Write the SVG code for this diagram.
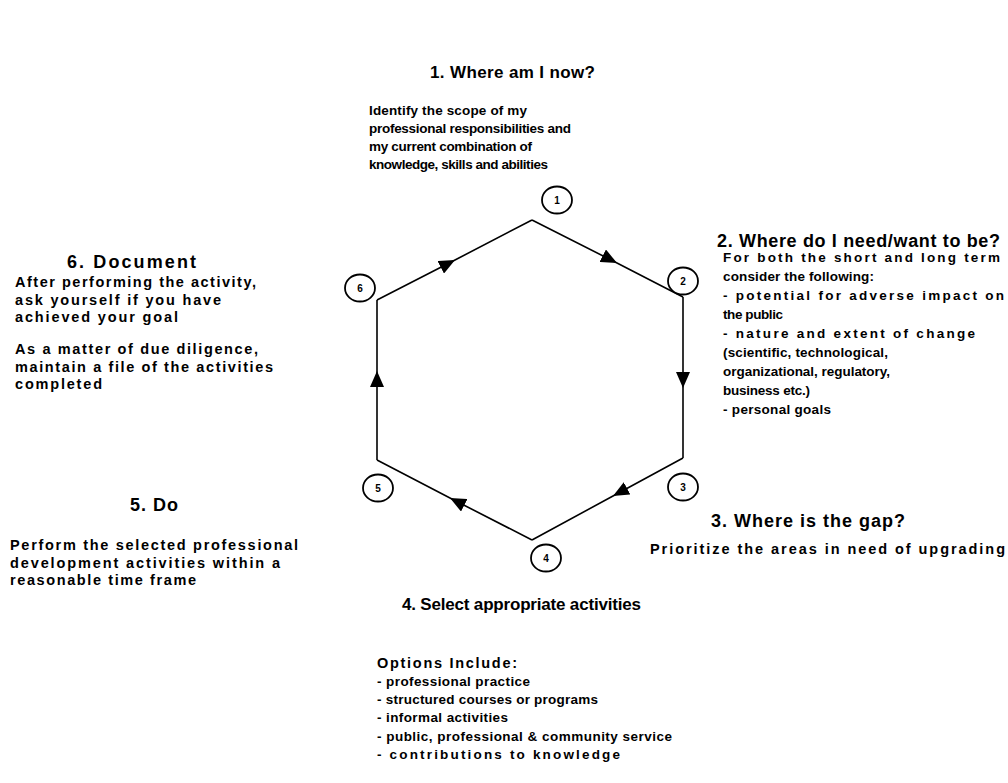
<svg xmlns="http://www.w3.org/2000/svg" width="1008" height="783" viewBox="0 0 1008 783">
<style>
text{font-family:"Liberation Sans",Arial,sans-serif;fill:#000;font-weight:bold}
.h{font-size:17px}
.h2{font-size:18px}
.b{font-size:13.5px}
.b2{font-size:14.5px}
.n{font-size:10px;text-anchor:middle}
.edge{fill:none;stroke:#000;stroke-width:1.6}
.c{fill:#fff;stroke:#000;stroke-width:1.8}
</style>
<defs>
<marker id="ah" markerUnits="userSpaceOnUse" markerWidth="17" markerHeight="14" refX="16" refY="7" orient="auto">
<path d="M0,0 L16,7 L0,14 z" fill="#000"/>
</marker>
</defs>
<rect width="1008" height="783" fill="#fff"/>
<g id="connectors">
<path class="edge" d="M377,300 L455,260 L532,220" marker-mid="url(#ah)"/>
<path class="edge" d="M532,220 L617,263 L683,297" marker-mid="url(#ah)"/>
<path class="edge" d="M683,297 L683,388 L683,458" marker-mid="url(#ah)"/>
<path class="edge" d="M683,458 L613,496 L532,540" marker-mid="url(#ah)"/>
<path class="edge" d="M532,540 L450,498 L377,460" marker-mid="url(#ah)"/>
<path class="edge" d="M377,460 L377,371 L377,300" marker-mid="url(#ah)"/>
</g>
<g id="node1">
<ellipse class="c" cx="557" cy="200" rx="15" ry="13.5"/>
<text class="n" x="557" y="204">1</text>
<text class="h" x="430" y="78" textLength="165" lengthAdjust="spacing">1. Where am I now?</text>
<text class="b" x="369" y="115" textLength="158" lengthAdjust="spacing">Identify the scope of my</text>
<text class="b" x="369" y="133" textLength="202" lengthAdjust="spacing">professional responsibilities and</text>
<text class="b" x="369" y="151" textLength="163" lengthAdjust="spacing">my current combination of</text>
<text class="b" x="369" y="169" textLength="179" lengthAdjust="spacing">knowledge, skills and abilities</text>
</g>
<g id="node2">
<ellipse class="c" cx="683" cy="281" rx="15" ry="13.5"/>
<text class="n" x="683" y="285">2</text>
<text class="h2" x="717" y="247" textLength="283" lengthAdjust="spacing">2. Where do I need/want to be?</text>
<text class="b" x="723" y="262" textLength="277" lengthAdjust="spacing">For both the short and long term</text>
<text class="b" x="723" y="281" textLength="151" lengthAdjust="spacing">consider the following:</text>
<text class="b" x="723" y="300" textLength="281" lengthAdjust="spacing">- potential for adverse impact on</text>
<text class="b" x="723" y="319" textLength="60" lengthAdjust="spacing">the public</text>
<text class="b" x="723" y="338" textLength="252" lengthAdjust="spacing">- nature and extent of change</text>
<text class="b" x="723" y="357" textLength="165" lengthAdjust="spacing">(scientific, technological,</text>
<text class="b" x="723" y="376" textLength="167" lengthAdjust="spacing">organizational, regulatory,</text>
<text class="b" x="723" y="395" textLength="87" lengthAdjust="spacing">business etc.)</text>
<text class="b" x="723" y="414" textLength="108" lengthAdjust="spacing">- personal goals</text>
</g>
<g id="node3">
<ellipse class="c" cx="683" cy="487" rx="15" ry="13.5"/>
<text class="n" x="683" y="491">3</text>
<text class="h2" x="711" y="527" textLength="194" lengthAdjust="spacing">3. Where is the gap?</text>
<text class="b2" x="650" y="554" textLength="355" lengthAdjust="spacing">Prioritize the areas in need of upgrading</text>
</g>
<g id="node4">
<ellipse class="c" cx="546" cy="558" rx="15" ry="13.5"/>
<text class="n" x="546" y="562">4</text>
<text class="h" x="402" y="610" textLength="239" lengthAdjust="spacing">4. Select appropriate activities</text>
<text class="b2" x="377" y="668" textLength="140" lengthAdjust="spacing">Options Include:</text>
<text class="b" x="377" y="686" textLength="153" lengthAdjust="spacing">- professional practice</text>
<text class="b" x="377" y="704" textLength="221" lengthAdjust="spacing">- structured courses or programs</text>
<text class="b" x="377" y="722" textLength="131" lengthAdjust="spacing">- informal activities</text>
<text class="b" x="377" y="741" textLength="295" lengthAdjust="spacing">- public, professional &amp; community service</text>
<text class="b" x="377" y="759" textLength="243" lengthAdjust="spacing">- contributions to knowledge</text>
</g>
<g id="node5">
<ellipse class="c" cx="378" cy="488" rx="15" ry="13.5"/>
<text class="n" x="378" y="492">5</text>
<text class="h2" x="130" y="511" textLength="48" lengthAdjust="spacing">5. Do</text>
<text class="b2" x="10" y="550" textLength="288" lengthAdjust="spacing">Perform the selected professional</text>
<text class="b2" x="10" y="568" textLength="270" lengthAdjust="spacing">development activities within a</text>
<text class="b2" x="10" y="585" textLength="186" lengthAdjust="spacing">reasonable time frame</text>
</g>
<g id="node6">
<ellipse class="c" cx="360" cy="288" rx="15" ry="13.5"/>
<text class="n" x="360" y="292">6</text>
<text class="h2" x="67" y="268" textLength="129" lengthAdjust="spacing">6. Document</text>
<text class="b2" x="15" y="287" textLength="241" lengthAdjust="spacing">After performing the activity,</text>
<text class="b2" x="15" y="305" textLength="206" lengthAdjust="spacing">ask yourself if you have</text>
<text class="b2" x="15" y="322" textLength="163" lengthAdjust="spacing">achieved your goal</text>
<text class="b2" x="15" y="354" textLength="243" lengthAdjust="spacing">As a matter of due diligence,</text>
<text class="b2" x="15" y="372" textLength="258" lengthAdjust="spacing">maintain a file of the activities</text>
<text class="b2" x="15" y="389" textLength="87" lengthAdjust="spacing">completed</text>
</g>
</svg>
